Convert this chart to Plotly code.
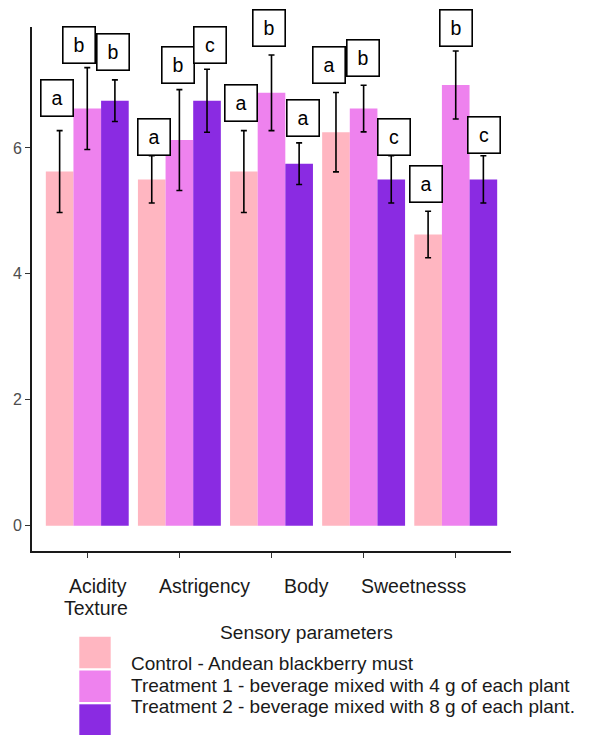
import plotly.graph_objects as go

# ---------------- data ----------------
categories = ["Acidity", "Astrigency", "Body", "Sweetnesss", "Texture"]
series_names = [
    "Control - Andean blackberry must",
    "Treatment 1 - beverage mixed with 4 g of each plant",
    "Treatment 2 - beverage mixed with 8 g of each plant.",
]
series_colors = ["#FFB6C1", "#EE82EE", "#8A2BE2"]

control_mean = [5.625, 5.5, 5.625, 6.25, 4.625]
control_sd = [0.65, 0.375, 0.65, 0.63, 0.37]
t1_mean = [6.625, 6.125, 6.875, 6.625, 7.0]
t1_sd = [0.65, 0.8, 0.6, 0.37, 0.54]
t2_mean = [6.75, 6.75, 5.75, 5.5, 5.5]
t2_sd = [0.33, 0.5, 0.33, 0.375, 0.375]

control_letters = ["a", "a", "a", "a", "a"]
t1_letters = ["b", "b", "b", "b", "b"]
t2_letters = ["b", "c", "a", "c", "c"]
control_letter_y = [6.79, 6.18, 6.71, 7.32, 5.43]
t1_letter_y = [7.63, 7.32, 7.90, 7.43, 7.90]
t2_letter_y = [7.53, 7.63, 6.48, 6.18, 6.20]
control_letter_dx = [-0.026, 0.028, -0.028, -0.075, -0.018]
t1_letter_dx = [-0.09, -0.014, -0.03, -0.005, 0.0]
t2_letter_dx = [-0.017, 0.029, 0.04, 0.026, 0.01]

x_label_text = ["Acidity", "Texture", "Astrigency", "Body", "Sweetnesss"]
x_label_pos = [0.112, 0.095, 1.275, 2.377, 3.546]
x_label_row = [0, 1, 0, 0, 0]

y_ticks = [0, 2, 4, 6]
legend_title = "Sensory parameters"

means = [control_mean, t1_mean, t2_mean]
sds = [control_sd, t1_sd, t2_sd]
letters = [control_letters, t1_letters, t2_letters]
letter_y = [control_letter_y, t1_letter_y, t2_letter_y]
letter_dx = [control_letter_dx, t1_letter_dx, t2_letter_dx]

FONT = "Liberation Sans, Arial, sans-serif"

# the page body has an 8px margin; layout below is in window pixels
PAGE = 8
W, H = 589 - PAGE, 735 - PAGE

fig = go.Figure()
for name, color, m, s in zip(series_names, series_colors, means, sds):
    fig.add_trace(go.Bar(
        x=categories, y=m, name=name,
        marker=dict(color=color, line=dict(width=0)),
        error_y=dict(type="data", array=s, visible=True,
                     color="black", thickness=1.6, width=3),
        showlegend=False,
    ))

annotations = []
n_series = len(series_names)
bar_w = 0.9 / n_series
for si in range(n_series):
    off = (si - (n_series - 1) / 2) * bar_w
    for ci in range(len(categories)):
        annotations.append(dict(
            x=ci + off + letter_dx[si][ci], y=letter_y[si][ci],
            xref="x", yref="y", text=letters[si][ci], showarrow=False,
            font=dict(family=FONT, size=19.5, color="black"),
            bgcolor="white", bordercolor="black", borderwidth=1.6,
            borderpad=0, width=31, height=35,
            xanchor="center", yanchor="middle",
        ))

# plot area in window pixels
plot_left, plot_right = 32, 511
plot_top, plot_bottom = 27, 551
ph = plot_bottom - plot_top
pw = plot_right - plot_left

def ypaper(py):
    return (plot_bottom - py) / ph

def xpaper(px):
    return (px - plot_left) / pw

row_y = [585.7, 607.7]
for t, xp, r in zip(x_label_text, x_label_pos, x_label_row):
    annotations.append(dict(
        x=xp, y=ypaper(row_y[r]), xref="x", yref="paper", text=t,
        showarrow=False, font=dict(family=FONT, size=19.5, color="#1a1a1a"),
        xanchor="center", yanchor="middle",
    ))

# manual legend
annotations.append(dict(
    x=xpaper(306), y=ypaper(632.3), xref="paper", yref="paper",
    text=legend_title, showarrow=False,
    font=dict(family=FONT, size=19.2, color="#1a1a1a"),
    xanchor="center", yanchor="middle",
))
key_tops = [636.7, 670.5, 704.3]
text_ys = [663.3, 685.7, 706.7]
shapes = []
for i, (name, color) in enumerate(zip(series_names, series_colors)):
    shapes.append(dict(
        type="rect", xref="paper", yref="paper",
        x0=xpaper(79.3), x1=xpaper(110.7),
        y0=ypaper(key_tops[i]), y1=ypaper(key_tops[i] + 31.5),
        fillcolor=color, line=dict(width=0), layer="above",
    ))
    annotations.append(dict(
        x=xpaper(129.3), y=ypaper(text_ys[i]), xref="paper", yref="paper",
        text=name, showarrow=False,
        font=dict(family=FONT, size=19, color="#1a1a1a"),
        xanchor="left", yanchor="middle",
    ))

fig.update_layout(
    width=W, height=H,
    margin=dict(l=plot_left - PAGE, r=589 - plot_right, t=plot_top - PAGE,
                b=735 - plot_bottom, autoexpand=False),
    barmode="group", bargap=0.1, bargroupgap=0,
    plot_bgcolor="white", paper_bgcolor="white",
    showlegend=False,
    annotations=annotations, shapes=shapes,
    font=dict(family=FONT),
)
fig.update_xaxes(
    type="category", range=[-0.6, 4.6],
    showline=True, linecolor="#1a1a1a", linewidth=1.6,
    ticks="outside", ticklen=5, tickwidth=1.2, tickcolor="#333333",
    showticklabels=False, showgrid=False, zeroline=False,
)
fig.update_yaxes(
    range=[-0.4, 7.92], tickvals=y_ticks,
    showline=True, linecolor="#1a1a1a", linewidth=1.6,
    ticks="outside", ticklen=5, tickwidth=1.2, tickcolor="#333333",
    tickfont=dict(family=FONT, size=16, color="#4d4d4d"),
    showgrid=False, zeroline=False,
)

fig.write_html("out.html")
